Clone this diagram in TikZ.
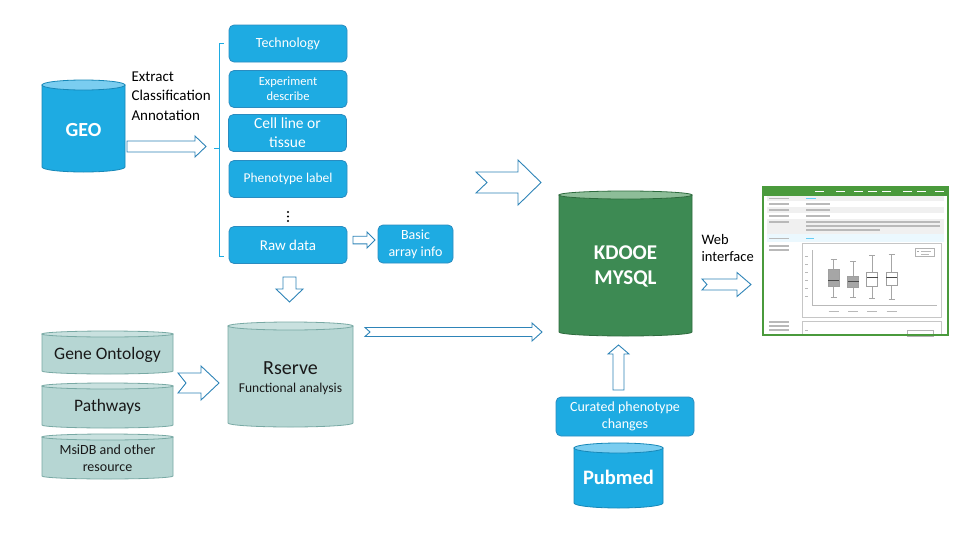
\documentclass[tikz,border=0pt]{standalone}
\usepackage{fontspec}
\setmainfont{Carlito}

\definecolor{boxBlue}{HTML}{1EABE2}
\definecolor{boxEdge}{HTML}{2A8CC0}
\definecolor{arrowEdge}{HTML}{2E84B8}
\definecolor{cylBlueTop}{HTML}{7ACDF0}
\definecolor{cylBlueEdge}{HTML}{1788B8}
\definecolor{cylGreen}{HTML}{3D8A53}
\definecolor{cylGreenTop}{HTML}{8DBD98}
\definecolor{cylGreenEdge}{HTML}{2E6B3E}
\definecolor{cylTeal}{HTML}{B6D6D3}
\definecolor{cylTealTop}{HTML}{C9E1DF}
\definecolor{cylTealEdge}{HTML}{78A9A4}
\definecolor{webGreen}{HTML}{4A9A3C}

\tikzset{
  infoBox/.style={
    fill=boxBlue, draw=boxEdge, line width=0.8pt,
    rounded corners=5pt, text=white, align=center,
    minimum width=118pt, minimum height=37pt, inner sep=1pt
  },
  blockArrow/.style={draw=arrowEdge, fill=white, line width=0.9pt},
  blueCyl/.style={fill=boxBlue, draw=cylBlueEdge, line width=0.8pt},
  blueCyl top/.style={fill=cylBlueTop},
  greenCyl/.style={fill=cylGreen, draw=cylGreenEdge, line width=0.8pt},
  greenCyl top/.style={fill=cylGreenTop},
  tealCyl/.style={fill=cylTeal, draw=cylTealEdge, line width=0.8pt},
  tealCyl top/.style={fill=cylTealTop},
  cylLabel/.style={text=white, font=\bfseries\fontsize{20}{24}\selectfont, align=center},
  tealLabel/.style={text=black!90, align=center},
  pageText/.style={draw=gray!55, line width=1.1pt},
  plainText/.style={align=left, font=\fontsize{14.5}{17}\selectfont}
}

% cylinder: style, left x, right x, top y, bottom y, ellipse radius
\newcommand\dbCylinder[6]{
  \pgfmathsetmacro\cylMid{(#2+#3)/2}
  \pgfmathsetmacro\cylRad{(#3-#2)/2}
  \draw[#1] (#2,#4) -- (#2,#5)
    arc[start angle=180, end angle=0, x radius=\cylRad, y radius=#6]
    -- (#3,#4) -- cycle;
  \draw[#1, #1 top] (\cylMid,#4) ellipse[x radius=\cylRad, y radius=#6];
}

% hollow arrow to the right: tail x, tip x, y, shaft, head, head length, notch
\newcommand\arrowRight[7]{
  \draw[blockArrow] ({#1},{#3-#4}) -- ({#2-#6},{#3-#4}) -- ({#2-#6},{#3-#5})
    -- ({#2},{#3}) -- ({#2-#6},{#3+#5}) -- ({#2-#6},{#3+#4})
    -- ({#1},{#3+#4}) -- ({#1+#7},{#3}) -- cycle;
}

% hollow vertical arrow: x, tail y, tip y, shaft, head, head length (signed)
\newcommand\arrowVert[6]{
  \draw[blockArrow] ({#1-#4},{#2}) -- ({#1-#4},{#3-(#6)}) -- ({#1-#5},{#3-(#6)})
    -- ({#1},{#3}) -- ({#1+#5},{#3-(#6)}) -- ({#1+#4},{#3-(#6)})
    -- ({#1+#4},{#2}) -- cycle;
}

\begin{document}
\begin{tikzpicture}[x=1pt, y=-1pt]
    \fill[white] (0,0) rectangle (971,538);
    \useasboundingbox (0,0) rectangle (971,538);

    % GEO source
    \dbCylinder{blueCyl}{42}{125}{85}{167}{5}
    \node[cylLabel] (geo) at (83.5,130) {GEO};
    \node[plainText, anchor=west, font=\fontsize{15}{19.5}\selectfont] (extract) at (128,96)
      {Extract\\Classification\\Annotation};
    \arrowRight{127}{206}{146.5}{5.5}{10.5}{11}{0}

    % bracket
    \draw[boxBlue, line width=0.9pt] (223.5,43) -- (219,43) -- (219,256) -- (223.5,256);
    \draw[boxBlue, line width=0.9pt] (219,148) -- (214,148);

    % extracted fields
    \node[infoBox, font=\fontsize{14}{16}\selectfont] (technology) at (288,43.5) {Technology};
    \node[infoBox, font=\fontsize{12.5}{15}\selectfont] (experiment) at (288,89) {Experiment\\describe};
    \node[infoBox, font=\fontsize{15.5}{19}\selectfont] (cellline) at (287.5,133) {Cell line or\\tissue};
    \node[infoBox, font=\fontsize{13.5}{16}\selectfont] (phenotype) at (288,179) {Phenotype label};
    \foreach \dy in {212,216.5,221}
      \fill[black] (288,\dy) circle[radius=1.1];
    \node[infoBox, font=\fontsize{15}{17}\selectfont] (rawdata) at (288,245) {Raw data};
    \node[infoBox, minimum width=75pt, minimum height=38pt, font=\fontsize{14}{17}\selectfont]
      (basicinfo) at (415.5,244) {Basic\\array info};
    \arrowRight{353}{375}{240}{3.8}{8}{8}{0}
    \arrowVert{289.5}{277}{302}{6.5}{13.5}{13}

    % annotation resources
    \dbCylinder{tealCyl}{42}{173}{334}{371}{3}
    \node[tealLabel, font=\fontsize{17.5}{20}\selectfont] (geneont) at (107.5,355) {Gene Ontology};
    \dbCylinder{tealCyl}{42}{173}{386}{425}{3}
    \node[tealLabel, font=\fontsize{17.5}{20}\selectfont] (pathways) at (107.5,407) {Pathways};
    \dbCylinder{tealCyl}{42}{173}{437}{476}{3}
    \node[tealLabel, font=\fontsize{14}{17}\selectfont] (msidb) at (107.5,458) {MsiDB and other\\resource};
    \arrowRight{178}{219}{383}{10}{17}{18}{8}

    % Rserve
    \dbCylinder{tealCyl}{228}{353}{326}{423}{4}
    \node[tealLabel, font=\fontsize{20}{22}\selectfont] (rserve) at (290.5,368) {Rserve};
    \node[tealLabel, font=\fontsize{13.5}{16}\selectfont] (functional) at (290.5,389) {Functional analysis};
    \arrowRight{365}{542}{332}{4.5}{9}{10}{5}

    % database
    \arrowRight{476}{541}{182.5}{10.5}{22.5}{23}{11}
    \dbCylinder{greenCyl}{559}{692}{195}{332}{4}
    \node[cylLabel, font=\bfseries\fontsize{21}{25}\selectfont] (kdooe) at (625.5,266) {KDOOE\\MYSQL};

    % literature curation
    \arrowVert{618.5}{390}{345}{5.5}{10.5}{-9}
    \node[infoBox, minimum width=138pt, minimum height=39pt, font=\fontsize{14}{17}\selectfont]
      (curated) at (625,416.5) {Curated phenotype\\changes};
    \dbCylinder{blueCyl}{574}{663}{448}{503}{5}
    \node[cylLabel, font=\bfseries\fontsize{20.5}{24}\selectfont] (pubmed) at (618.5,477) {Pubmed};

    % web interface
    \node[plainText, anchor=west] (web) at (698,248.5) {Web\\interface};
    \arrowRight{702}{751}{284.5}{5.5}{12}{14}{5}

    % web page snapshot
    \begin{scope}
      \fill[white] (763,187) rectangle (948,335);
      \fill[webGreen] (763,187) rectangle (948,195.5);
      \foreach \mx in {815,836,854,868,882,903,917,935}
        \fill[white] (\mx,190.5) rectangle ++(9,1.6);
      \foreach \ya/\yb in {196/201,207/213,219/234}
        \fill[gray!12] (767,\ya) rectangle (944,\yb);
      \fill[cyan!8] (767,234) rectangle (944,242);
      \foreach \ly in {198.5,204,210,216,222,238.5,246,250}
        \draw[pageText] (769,\ly) -- ++(20,0);
      \foreach \ly in {204,210,216}
        \draw[pageText] (806,\ly) -- ++(24,0);
      \draw[pageText] (806,222) -- (940,222);
      \draw[pageText] (806,226) -- (940,226);
      \draw[pageText] (806,230) -- (880,230);
      \draw[cyan!60, line width=1.1pt] (806,198.5) -- ++(10,0);
      \draw[cyan!60, line width=1.1pt] (806,238.5) -- ++(8,0);
      % chart
      \draw[gray!45, line width=0.5pt] (802,243) rectangle (941,317);
      \foreach \ty in {256,264,272,280,288,296}
        \draw[gray!55, line width=0.9pt] (805,\ty) -- ++(3,0);
      \draw[gray!55, line width=0.4pt] (812,250) -- (812,305) -- (937,305);
      \foreach \bx/\lo/\qa/\md/\qb/\hi/\fc in {
          833.5/259/269/280/286/297/gray!70,
          853/261/276/281/287/297/gray!70,
          872/255/272/277/286/298/white,
          891.5/254/272/277/285/299/white} {
        \draw[gray!70, line width=0.5pt] (\bx,\lo) -- (\bx,\hi);
        \draw[gray!70, line width=0.5pt] (\bx-3,\lo) -- (\bx+3,\lo) (\bx-3,\hi) -- (\bx+3,\hi);
        \draw[gray!75, fill=\fc, line width=0.6pt] (\bx-5.5,\qa) rectangle (\bx+5.5,\qb);
        \draw[black!70, line width=0.8pt] (\bx-5.5,\md) -- (\bx+5.5,\md);
        \draw[pageText, line width=0.8pt] (\bx-5,311) -- (\bx+5,311);
      }
      \draw[gray!60, line width=0.5pt] (915,248) rectangle (934,256);
      \fill[gray!70] (917,250.5) rectangle ++(2,1.5);
      \draw[pageText, line width=0.7pt] (921,251) -- ++(10,0) (921,254) -- ++(8,0);
      % next row
      \foreach \ly in {322,326,330}
        \draw[pageText] (769,\ly) -- ++(20,0);
      \draw[gray!45, line width=0.5pt] (802,335) -- (802,321) -- (941,321) -- (941,335);
      \draw[gray!55, line width=0.9pt] (805,330) -- ++(3,0);
      \draw[gray!60, line width=0.5pt] (907,330) rectangle (933,336);
      \draw[webGreen, line width=1.2pt] (763,187) rectangle (948,335);
    \end{scope}
\end{tikzpicture}
\end{document}
